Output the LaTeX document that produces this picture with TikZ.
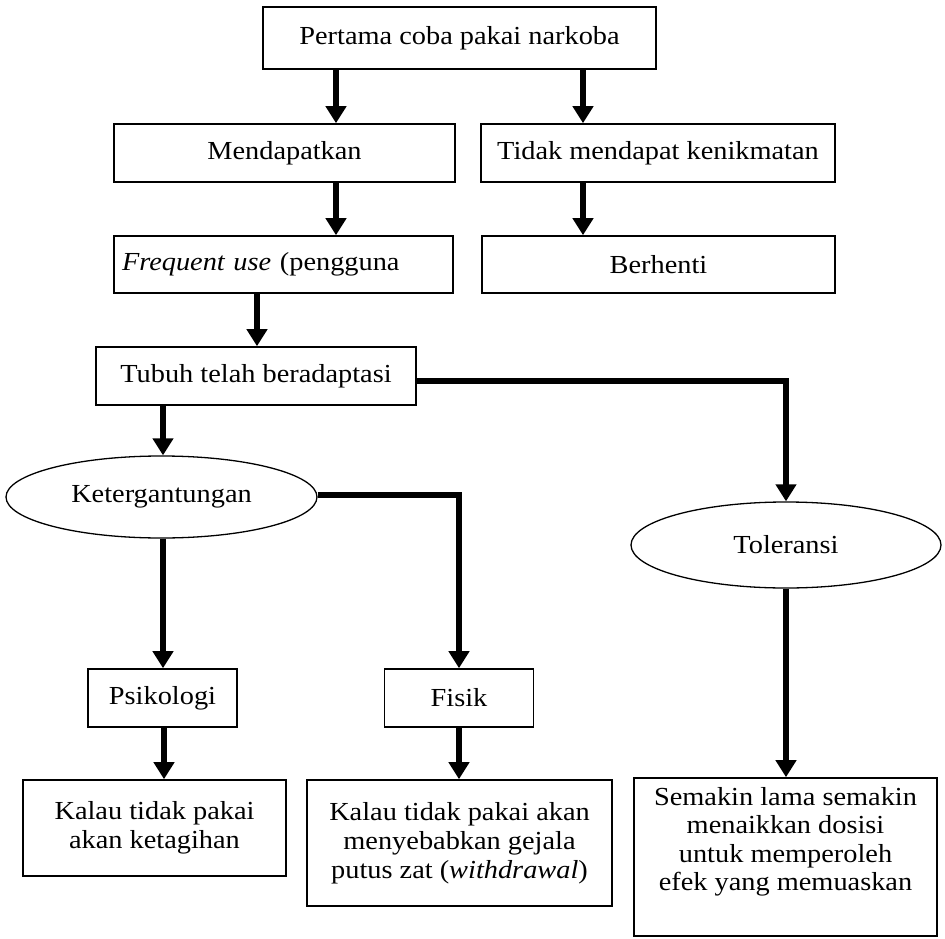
\documentclass[tikz,border=0pt]{standalone}
\usepackage{fontspec}
\setmainfont{Liberation Serif}[FakeStretch=1.09]
\usetikzlibrary{arrows.meta,shapes.geometric}
\newcommand\fsz{\fontsize{26pt}{29pt}\selectfont}
\begin{document}
\begin{tikzpicture}[x=1pt,y=-1pt,
  box/.style={draw, line width=1.6pt, rectangle, inner sep=0pt, align=center, font=\fsz},
  oval/.style={draw, ellipse, line width=1.3pt, inner sep=0pt, font=\fsz},
  conn/.style={line width=6pt, -{Triangle[width=20pt,length=17pt]}}]
\fill[white] (0,0) rectangle (945,939);
\useasboundingbox (0,0) rectangle (945,939);

\node[box, minimum width=393pt, minimum height=62pt] (top) at (459.5,38) {Pertama coba pakai narkoba};
\node[box, minimum width=341pt, minimum height=58pt] (mend) at (284.5,153) {Mendapatkan};
\node[box, minimum width=354pt, minimum height=58pt] (tidak) at (658,153) {Tidak mendapat kenikmatan};
\node[box, minimum width=339pt, minimum height=57pt, text width=323pt, align=left, inner xsep=8pt] (freq) at (283.5,264.5) {\textit{Frequent use} (pengguna};
\node[box, minimum width=353pt, minimum height=57pt] (berh) at (658.5,264.5) {Berhenti};
\node[box, minimum width=320pt, minimum height=58pt] (tubuh) at (256,376) {Tubuh telah beradaptasi};
\node[oval, minimum width=311pt, minimum height=82pt] (keter) at (161.5,497) {Ketergantungan};
\node[oval, minimum width=310pt, minimum height=86pt] (tol) at (786,545) {Toleransi};
\node[box, minimum width=149pt, minimum height=58pt] (psi) at (162.5,698) {Psikologi};
\node[box, minimum width=149pt, minimum height=58pt] (fis) at (459,698) {Fisik};
\node[box, minimum width=263pt, minimum height=96pt] (k1) at (154.5,828) {Kalau tidak pakai\\akan ketagihan};
\node[box, minimum width=305pt, minimum height=126pt] (k2) at (459.5,843) {Kalau tidak pakai akan\\menyebabkan gejala\\putus zat (\textit{withdrawal})};
\node[box, minimum width=303pt, minimum height=158pt, font=\fontsize{26pt}{28.5pt}\selectfont] (sem) at (785.5,857) {Semakin lama semakin\\menaikkan dosisi\\untuk memperoleh\\efek yang memuaskan\\[8pt]};

\coordinate (xa) at (336,0);
\coordinate (xb) at (583,0);
\coordinate (xc) at (257,0);
\coordinate (xd) at (163,0);
\coordinate (xe) at (164,0);
\coordinate (ya) at (0,381);
\coordinate (yb) at (0,495);

\draw[conn] (top.south -| xa) -- (mend.north -| xa);
\draw[conn] (top.south -| xb) -- (tidak.north -| xb);
\draw[conn] (mend.south -| xa) -- (freq.north -| xa);
\draw[conn] (tidak.south -| xb) -- (berh.north -| xb);
\draw[conn] (freq.south -| xc) -- (tubuh.north -| xc);
\draw[conn] (tubuh.east |- ya) -| (tol.north);
\draw[conn] (tubuh.south -| xd) -- (keter.north -| xd);
\draw[conn] (keter.east |- yb) -| (fis.north);
\draw[conn] (keter.south -| xd) -- (psi.north -| xd);
\draw[conn] (psi.south -| xe) -- (k1.north -| xe);
\draw[conn] (fis.south) -- (k2.north -| fis.south);
\draw[conn] (tol.south) -- (sem.north -| tol.south);
\end{tikzpicture}
\end{document}
